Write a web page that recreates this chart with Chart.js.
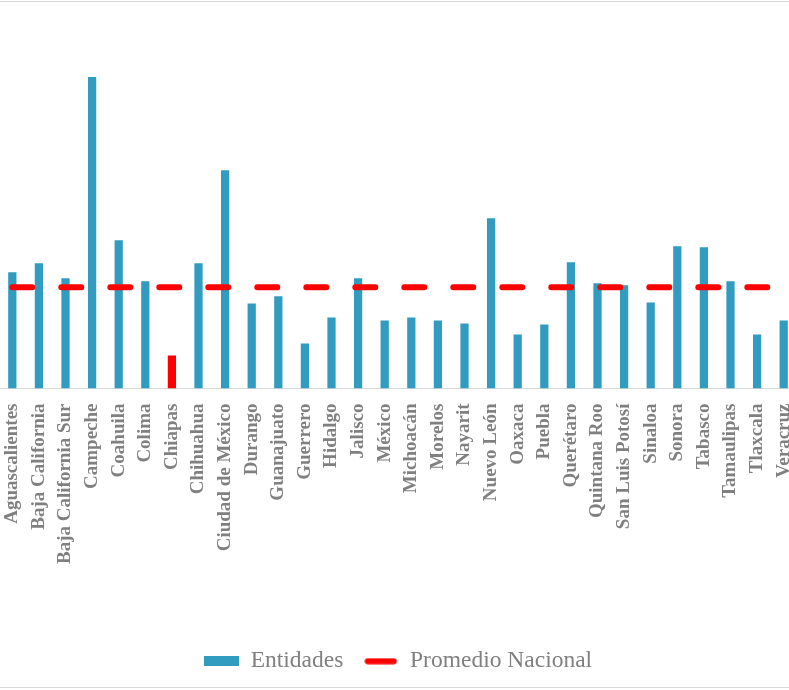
<!DOCTYPE html>
<html>
<head>
<meta charset="utf-8">
<script src="https://cdn.jsdelivr.net/npm/chart.js@4/dist/chart.umd.min.js"></script>
<style>
  html, body { margin: 0; padding: 0; background: #fff; overflow: hidden; width: 789px; height: 690px; }
  #wrap { position: absolute; left: -1px; top: 0; width: 798px; height: 690px; }
  .edge { position: absolute; left: 0; width: 789px; height: 0; border-top: 1px solid #d9d9d9; }
</style>
</head>
<body>
<div id="wrap"><canvas id="chart"></canvas></div>
<div class="edge" style="top:1px"></div>
<div class="edge" style="top:687px"></div>
<script>
// categorias (entidades federativas visibles)
const entidades = [
  "Aguascalientes","Baja California","Baja California Sur","Campeche","Coahuila",
  "Colima","Chiapas","Chihuahua","Ciudad de México","Durango",
  "Guanajuato","Guerrero","Hidalgo","Jalisco","México",
  "Michoacán","Morelos","Nayarit","Nuevo León","Oaxaca",
  "Puebla","Querétaro","Quintana Roo","San Luis Potosí","Sinaloa",
  "Sonora","Tabasco","Tamaulipas","Tlaxcala","Veracruz"
];
// valores (unidades relativas)
const valores = [
  116,125,110,311,148,
  107,33,125,218,85,
  92,45,71,110,68,
  71,68,65,170,54,
  64,126,105,103,86,
  142,141,107,54,68
];
const promedioNacional = 101;
const resaltada = "Chiapas";

const azul = '#319BC0';
const rojo = '#FF0000';
const gris = '#808080';

const promedio = entidades.map(() => promedioNacional);
const coloresBarras = entidades.map(e => e === resaltada ? rojo : azul);

// marcadores de la leyenda
function markerRect(){
  const c = document.createElement('canvas');
  c.width = 35; c.height = 10;
  const g = c.getContext('2d');
  g.fillStyle = azul;
  g.fillRect(0,0,35,10);
  return c;
}
function markerLine(){
  const c = document.createElement('canvas');
  c.width = 33; c.height = 7;
  const g = c.getContext('2d');
  g.strokeStyle = rojo;
  g.lineWidth = 6;
  g.lineCap = 'round';
  g.beginPath();
  g.moveTo(3.5,3.5); g.lineTo(29.5,3.5);
  g.stroke();
  return c;
}
const marcadores = [markerRect(), markerLine()];

new Chart(document.getElementById('chart'), {
  type: 'bar',
  data: {
    labels: entidades,
    datasets: [
      {
        type: 'line',
        label: 'Promedio Nacional',
        data: promedio,
        borderColor: rojo,
        backgroundColor: rojo,
        borderWidth: 6,
        borderDash: [20, 29],
        borderCapStyle: 'round',
        pointRadius: 0,
        fill: false,
        order: 0
      },
      {
        label: 'Entidades',
        data: valores,
        backgroundColor: coloresBarras,
        barPercentage: 0.62,
        categoryPercentage: 0.5,
        order: 1
      }
    ]
  },
  options: {
    responsive: true,
    maintainAspectRatio: false,
    animation: false,
    layout: { padding: { top: 28, left: 0, right: 0, bottom: 7 } },
    scales: {
      x: {
        grid: { display: false },
        border: { display: true, color: '#d9d9d9', width: 1 },
        ticks: {
          autoSkip: false,
          maxRotation: 90,
          minRotation: 90,
          padding: 7,
          color: gris,
          font: { family: 'Liberation Serif', size: 19, weight: 'bold' }
        },
        // el grafico original queda recortado a la derecha
        afterFit: (scale) => { scale.height = 241; scale.paddingRight = 0; scale.paddingLeft = 0; }
      },
      y: {
        display: false,
        min: 0,
        max: 360
      }
    },
    plugins: {
      tooltip: { enabled: false },
      legend: {
        position: 'bottom',
        labels: {
          usePointStyle: true,
          pointStyleWidth: 35,
          padding: 20,
          color: gris,
          font: { family: 'Liberation Serif', size: 23.5 },
          generateLabels: (chart) => [
            { text: 'Entidades', pointStyle: marcadores[0], fillStyle: azul, strokeStyle: azul, lineWidth: 0, hidden: false, datasetIndex: 1, fontColor: gris },
            { text: 'Promedio Nacional', pointStyle: marcadores[1], fillStyle: rojo, strokeStyle: rojo, lineWidth: 0, hidden: false, datasetIndex: 0, fontColor: gris }
          ]
        }
      }
    }
  }
});
</script>
</body>
</html>
